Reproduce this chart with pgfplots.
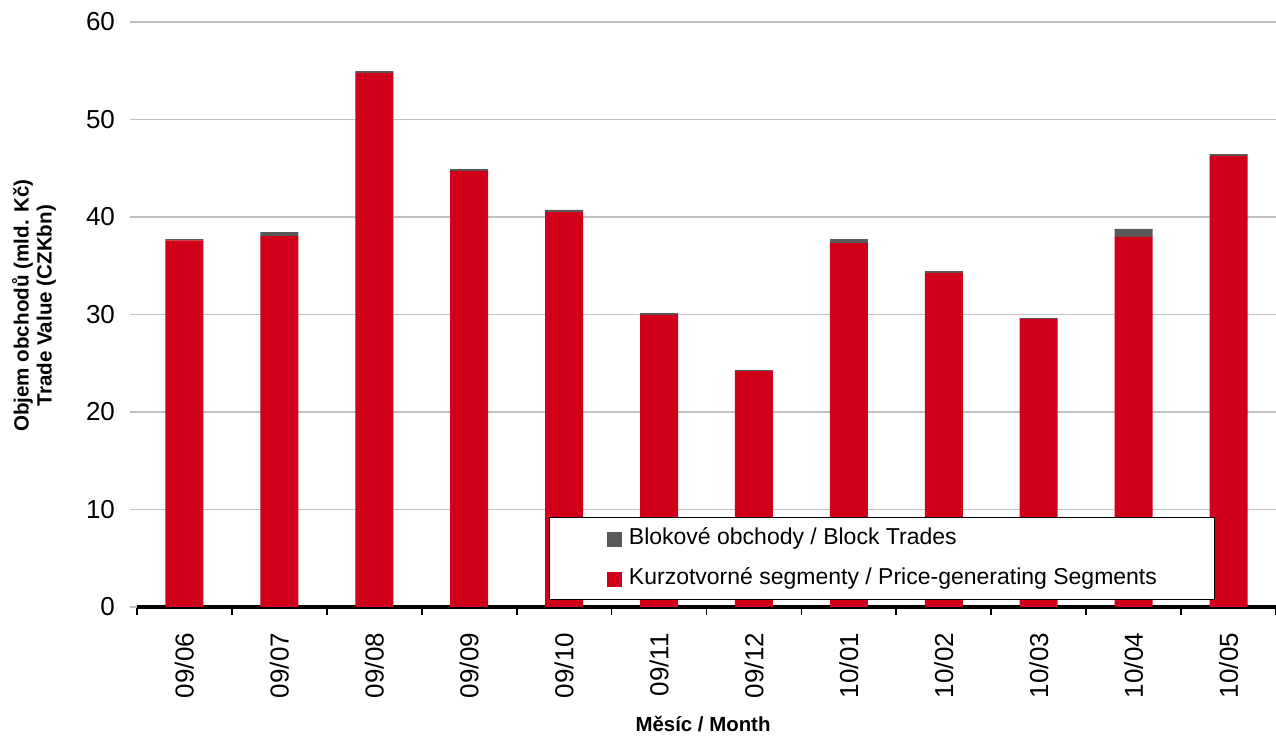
\documentclass[border=0pt]{standalone}
\usepackage{pgfplots}
\pgfplotsset{compat=1.18}
\usepackage{fontspec}
\setmainfont{Liberation Sans}
\definecolor{pxred}{RGB}{208,0,27}
\definecolor{pxgrey}{RGB}{89,89,89}
\definecolor{gridgrey}{RGB}{192,192,192}

\begin{document}
\begin{tikzpicture}
  % page = 1276 x 737 px at 2 px/pt, axis box from (137,22) to (1276,607)
  \path[use as bounding box] (-68.5pt,-65pt) rectangle (569.5pt,303.5pt);
  \begin{axis}[
      at={(0,0)}, anchor=south west,
      ybar stacked,
      scale only axis,
      width=569.5pt, height=292.5pt,
      bar width=19pt,
      xmin=-0.5, xmax=11.5,
      ymin=0, ymax=60,
      ytick={0,10,...,60},
      xtick={0,...,11},
      xticklabels={09/06,09/07,09/08,09/09,09/10,09/11,09/12,10/01,10/02,10/03,10/04,10/05},
      minor xtick={-0.5,0.5,...,11.5},
      major x tick style={draw=none},
      minor x tick style={black, line width=0.9pt},
      minor tick length=4pt,
      y tick style={gridgrey, line width=0.8pt},
      major tick length=3.5pt,
      tick align=outside,
      xtick pos=bottom, ytick pos=left,
      ymajorgrids,
      major grid style={gridgrey, line width=0.9pt},
      axis x line*=bottom,
      axis y line*=left,
      x axis line style={black, line width=1.6pt, -},
      y axis line style={draw=none},
      /pgf/number format/assume math mode=true,
      tick label style={font=\fontsize{13}{15}\selectfont},
      xticklabel style={rotate=90, anchor=east, xshift=-6pt},
      yticklabel style={xshift=-4pt},
      xlabel={Měsíc / Month},
      ylabel={Objem obchodů (mld. Kč)\\Trade Value (CZKbn)},
      every axis x label/.style={at={(rel axis cs:0.497,0)}, yshift=-58.5pt, anchor=center, font=\bfseries\fontsize{10.2}{12}\selectfont},
      every axis y label/.style={at={(rel axis cs:0,0.515)}, xshift=-51.5pt, rotate=90, anchor=center, align=center, font=\bfseries\fontsize{10.3}{11.5}\selectfont},
      reverse legend,
      legend cell align=left,
      legend style={at={(rel axis cs:0.3617,0.012)}, anchor=south west,
        draw=black, line width=0.5pt, fill=white,
        font=\fontsize{11.5}{13}\selectfont,
        inner xsep=28.75pt, inner ysep=4.8pt, row sep=8.5pt, column sep=3.5pt,
        nodes={inner sep=0pt, text height=9pt, text depth=2.5pt}},
      legend image code/.code={%
        \fill[#1] (0pt,-4.5pt) rectangle (7.5pt,3pt);},
    ]
    \addplot[fill=pxred, draw=none] coordinates {
      (0,37.6) (1,38.05) (2,54.77) (3,44.72) (4,40.5) (5,29.95)
      (6,24.2) (7,37.33) (8,34.26) (9,29.54) (10,37.95) (11,46.26)
    };
    \addlegendentry{Kurzotvorné segmenty / Price-generating Segments}
    \addplot[fill=pxgrey, draw=none] coordinates {
      (0,0.14) (1,0.41) (2,0.2) (3,0.2) (4,0.22) (5,0.2)
      (6,0.1) (7,0.41) (8,0.2) (9,0.1) (10,0.82) (11,0.2)
    };
    \addlegendentry{Blokové obchody / Block Trades}
  \end{axis}
\end{tikzpicture}
\end{document}
